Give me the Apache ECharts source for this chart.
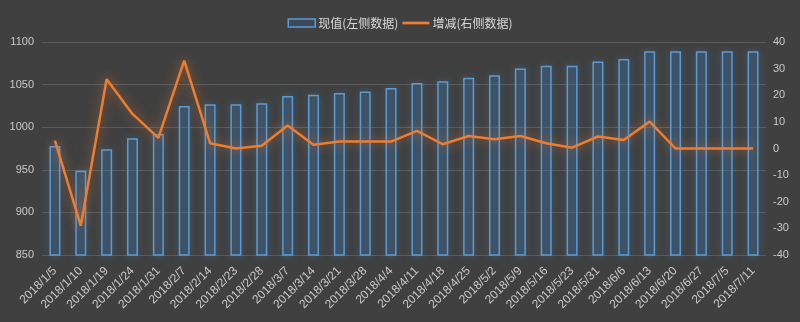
<!DOCTYPE html>
<html>
<head>
<meta charset="utf-8">
<script src="https://cdn.jsdelivr.net/npm/echarts@6/dist/echarts.min.js"></script>
<style>
  html, body { margin: 0; padding: 0; background: #404040; }
  #chart { width: 800px; height: 322px; }
</style>
</head>
<body>
<div id="chart"></div>
<script>
// Weekly dates on the category axis
const dates = [
  '2018/1/5', '2018/1/10', '2018/1/19', '2018/1/24', '2018/1/31', '2018/2/7', '2018/2/14',
  '2018/2/23', '2018/2/28', '2018/3/7', '2018/3/14', '2018/3/21', '2018/3/28', '2018/4/4',
  '2018/4/11', '2018/4/18', '2018/4/25', '2018/5/2', '2018/5/9', '2018/5/16', '2018/5/23',
  '2018/5/31', '2018/6/6', '2018/6/13', '2018/6/20', '2018/6/27', '2018/7/5', '2018/7/11'
];

// Current value (left axis)
const currentValues = [
  978, 949, 974, 987, 992, 1025, 1027, 1027, 1028, 1036.5, 1038, 1040, 1042, 1046,
  1052, 1054, 1058, 1061, 1069, 1072, 1072, 1077, 1080, 1089, 1089, 1089, 1089, 1089
];

// Change (right axis)
const changeValues = [
  3, -29, 26, 13, 4, 33, 2, 0, 1, 8.6, 1.4, 2.6, 2.6, 2.6,
  6.6, 1.6, 4.7, 3.5, 4.7, 2, 0.3, 4.5, 3.2, 10.1, 0, 0, 0, 0
];

const seriesNames = ['现值(左侧数据)', '增减(右侧数据)'];

const leftAxis = { min: 850, max: 1100, interval: 50 };
const rightAxis = { min: -40, max: 40, interval: 10 };

const labelColor = '#c8c8c8';
const gridColor = '#5c5c5c';
const latinFont = '"Liberation Sans", Arial, sans-serif';

// Thin horizontal bar centred in an 8-unit-tall box, used as the line legend swatch
const lineSwatch = 'path://M0,0 M0,2.6 L28,2.6 L28,5.4 L0,5.4 Z M28,8';

const chart = echarts.init(document.getElementById('chart'), null, { renderer: 'canvas' });

chart.setOption({
  backgroundColor: '#404040',
  animation: false,
  legend: {
    top: 12,
    left: 'center',
    itemWidth: 27,
    itemHeight: 8,
    itemGap: 4,
    textStyle: { color: '#d9d9d9', fontSize: 12, fontFamily: '"Noto Sans CJK SC", sans-serif', padding: [0, 0, 0, -2] },
    data: [
      { name: seriesNames[0], icon: 'rect',
        itemStyle: { color: 'rgba(50,100,150,0.25)', borderColor: '#5b9bd5', borderWidth: 1.5, shadowBlur: 0 } },
      { name: seriesNames[1], icon: lineSwatch,
        itemStyle: { color: '#ed7d31', borderWidth: 0, shadowBlur: 0 } }
    ]
  },
  grid: { left: 42, right: 34, top: 42, bottom: 67, containLabel: false },
  xAxis: {
    type: 'category',
    data: dates,
    axisLine: { show: false },
    axisTick: { show: false },
    axisLabel: {
      interval: 0,
      rotate: 45,
      margin: 14,
      color: labelColor,
      fontSize: 12,
      fontFamily: latinFont
    }
  },
  yAxis: [
    {
      type: 'value',
      min: leftAxis.min, max: leftAxis.max, interval: leftAxis.interval,
      axisLine: { show: false },
      axisTick: { show: false },
      axisLabel: { color: labelColor, fontSize: 11, margin: 8, fontFamily: latinFont,
        formatter: v => String(v) },
      splitLine: { lineStyle: { color: gridColor, width: 1 } }
    },
    {
      type: 'value',
      min: rightAxis.min, max: rightAxis.max, interval: rightAxis.interval,
      axisLine: { show: false },
      axisTick: { show: false },
      axisLabel: { color: labelColor, fontSize: 11, margin: 7, fontFamily: latinFont,
        formatter: v => String(v) },
      splitLine: { show: false }
    }
  ],
  series: [
    {
      name: seriesNames[0],
      type: 'bar',
      yAxisIndex: 0,
      data: currentValues,
      barWidth: 11,
      itemStyle: {
        color: 'rgba(50,100,150,0.25)',
        borderColor: '#5b9bd5',
        borderWidth: 1.5,
        shadowBlur: 10,
        shadowColor: 'rgba(91,155,213,0.45)'
      }
    },
    {
      name: seriesNames[1],
      type: 'line',
      yAxisIndex: 1,
      data: changeValues,
      symbol: 'none',
      lineStyle: {
        color: '#ed7d31',
        width: 2.5,
        shadowBlur: 12,
        shadowColor: 'rgba(237,125,49,0.7)'
      },
      itemStyle: { color: '#ed7d31' },
      z: 3
    }
  ]
});
</script>
</body>
</html>
